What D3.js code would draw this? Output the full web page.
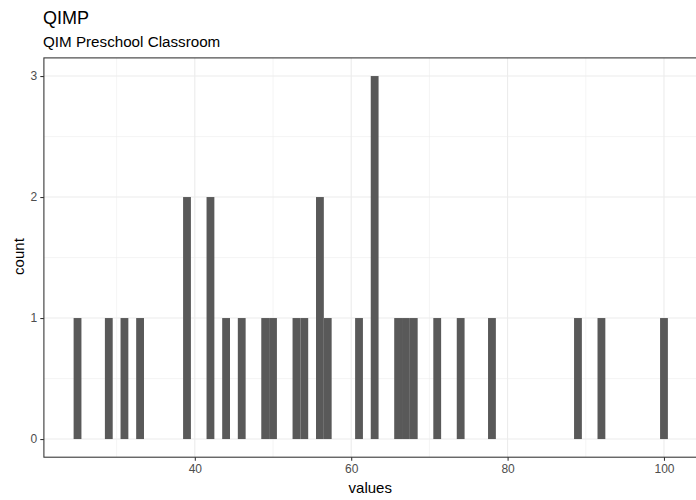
<!DOCTYPE html>
<html>
<head>
<meta charset="utf-8">
<script src="https://cdn.jsdelivr.net/npm/d3@7"></script>
<style>
  html, body { margin: 0; padding: 0; background: #fff; }
  svg { display: block; font-family: "Liberation Sans", Arial, Helvetica, sans-serif; }
</style>
</head>
<body>
<svg id="chart" width="696" height="500"></svg>
<script>
// Histogram bins (binwidth 1, centred on the value) and their counts
const binCenters = [25, 29, 31, 33, 39, 42, 44, 46, 49, 50, 53, 54, 56, 57, 61, 63, 66, 67, 68, 71, 74, 78, 89, 92, 100];
const binCounts  = [1, 1, 1, 1, 2, 2, 1, 1, 1, 1, 1, 1, 2, 1, 1, 3, 1, 1, 1, 1, 1, 1, 1, 1, 1];
const xTicks = [40, 60, 80, 100];
const xMinorTicks = [30, 50, 70, 90];
const yTicks = [0, 1, 2, 3];
const yMinorTicks = [0.5, 1.5, 2.5];
const binWidth = 1;

const svg = d3.select("#chart");
const panel = { left: 43.9, right: 697.6, top: 57.9, bottom: 457.2 };

// 5% expansion of the data range on both axes
const xLo = d3.min(binCenters) - binWidth / 2, xHi = d3.max(binCenters) + binWidth / 2;
const xPad = (xHi - xLo) * 0.05;
const x = d3.scaleLinear().domain([xLo - xPad, xHi + xPad]).range([panel.left, panel.right]);
const yMax = d3.max(binCounts);
const y = d3.scaleLinear().domain([-yMax * 0.05, yMax * 1.05]).range([panel.bottom, panel.top]);

// panel background and grid
svg.append("rect").attr("x", panel.left).attr("y", panel.top)
  .attr("width", panel.right - panel.left).attr("height", panel.bottom - panel.top)
  .attr("fill", "#fff");

const grid = svg.append("g");
grid.selectAll(".xminor").data(xMinorTicks).join("line")
  .attr("x1", d => x(d)).attr("x2", d => x(d)).attr("y1", panel.top).attr("y2", panel.bottom)
  .attr("stroke", "#ebebeb").attr("stroke-width", 0.55);
grid.selectAll(".yminor").data(yMinorTicks).join("line")
  .attr("x1", panel.left).attr("x2", panel.right).attr("y1", d => y(d)).attr("y2", d => y(d))
  .attr("stroke", "#ebebeb").attr("stroke-width", 0.55);
grid.selectAll(".xmajor").data(xTicks).join("line")
  .attr("x1", d => x(d)).attr("x2", d => x(d)).attr("y1", panel.top).attr("y2", panel.bottom)
  .attr("stroke", "#ebebeb").attr("stroke-width", 1.07);
grid.selectAll(".ymajor").data(yTicks).join("line")
  .attr("x1", panel.left).attr("x2", panel.right).attr("y1", d => y(d)).attr("y2", d => y(d))
  .attr("stroke", "#ebebeb").attr("stroke-width", 1.07);

// bars
const bins = binCenters.map((c, i) => ({ c, n: binCounts[i] }));
svg.append("g").selectAll("rect").data(bins).join("rect")
  .attr("x", d => x(d.c - binWidth / 2))
  .attr("width", d => x(d.c + binWidth / 2) - x(d.c - binWidth / 2))
  .attr("y", d => y(d.n))
  .attr("height", d => y(0) - y(d.n))
  .attr("fill", "#595959");

// panel border
svg.append("rect").attr("x", panel.left).attr("y", panel.top)
  .attr("width", panel.right - panel.left).attr("height", panel.bottom - panel.top)
  .attr("fill", "none").attr("stroke", "#333333").attr("stroke-width", 1.07);

// axes
const xAxis = d3.axisBottom(x).tickValues(xTicks).tickFormat(d3.format("d")).tickSize(3.6).tickPadding(3.2);
const gx = svg.append("g").attr("transform", `translate(0,${panel.bottom})`).call(xAxis);
const yAxis = d3.axisLeft(y).tickValues(yTicks).tickFormat(d3.format("d")).tickSize(3.6).tickPadding(3.2);
const gy = svg.append("g").attr("transform", `translate(${panel.left},0)`).call(yAxis);
[gx, gy].forEach(g => {
  g.select(".domain").remove();
  g.selectAll(".tick line").attr("stroke", "#333333").attr("stroke-width", 1.07);
  g.selectAll(".tick text").attr("fill", "#4d4d4d").style("font-size", "12px")
    .style("font-family", "'Liberation Sans', Arial, sans-serif");
});

// axis titles
svg.append("text").attr("x", (panel.left + panel.right) / 2 - 0.5).attr("y", 493)
  .attr("text-anchor", "middle").attr("fill", "#000").style("font-size", "15px").text("values");
svg.append("text").attr("transform", `translate(24,${(panel.top + panel.bottom) / 2 - 1}) rotate(-90)`)
  .attr("text-anchor", "middle").attr("fill", "#000").style("font-size", "15px").text("count");

// titles
svg.append("text").attr("x", 43).attr("y", 24).attr("fill", "#000").style("font-size", "18px").text("QIMP");
svg.append("text").attr("x", 43).attr("y", 46.5).attr("fill", "#000").style("font-size", "15.2px").text("QIM Preschool Classroom");
</script>
</body>
</html>
